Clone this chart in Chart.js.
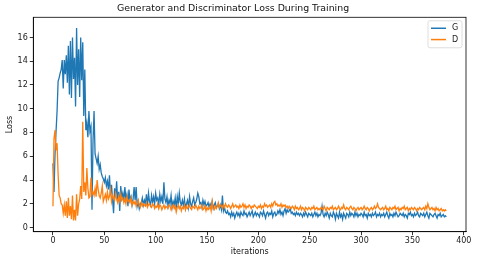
<!DOCTYPE html>
<html>
<head>
<meta charset="utf-8">
<script src="https://cdn.jsdelivr.net/npm/chart.js@4/dist/chart.umd.min.js"></script>
<style>
  html, body { margin: 0; padding: 0; background: #fff; }
  #wrap { width: 480px; height: 258px; }
</style>
</head>
<body>
<div id="wrap"><canvas id="lossChart" width="480" height="258"></canvas></div>
<script>
// Loss values, one per iteration
const gLoss = [
  5.4, 3.0, 6.2, 8.1, 9.8, 12.3, 12.6, 13.0, 13.3, 14.1,
  11.7, 14.1, 12.9, 14.5, 12.2, 15.3, 11.2, 15.7, 10.9, 16.0,
  12.5, 14.3, 10.2, 16.8, 12.0, 15.0, 11.0, 16.0, 12.4, 15.6,
  9.4, 13.3, 8.2, 8.8, 7.6, 9.8, 8.1, 8.5, 1.5, 7.3,
  9.8, 6.2, 5.8, 5.4, 6.0, 4.9, 5.3, 4.6, 4.3, 4.1,
  3.8, 4.2, 3.5, 3.9, 3.2, 4.4, 2.8, 3.6, 2.4, 1.2,
  3.3, 2.6, 3.9, 2.2, 3.0, 1.4, 3.5, 2.5, 2.9, 2.2,
  3.4, 2.4, 2.8, 1.8, 3.2, 2.3, 2.6, 1.9, 2.4, 3.4,
  2.3, 3.4, 1.8, 2.2, 1.6, 2.0, 2.1, 2.5, 1.9, 2.3,
  2.0, 2.8, 1.8, 2.9, 2.2, 1.9, 2.7, 2.1, 2.6, 2.0,
  2.9, 2.3, 2.5, 1.9, 2.8, 2.2, 2.6, 2.0, 3.8, 2.4,
  2.1, 2.6, 1.8, 2.3, 2.0, 2.7, 1.7, 2.2, 1.9, 2.5,
  1.6, 2.6, 2.0, 2.9, 2.1, 1.9, 2.3, 1.8, 2.4, 1.6,
  2.0, 2.3, 1.7, 2.6, 2.0, 1.8, 2.2, 2.5, 1.9, 2.1,
  2.4, 2.9, 2.6, 2.0, 2.1, 1.7, 2.3, 1.9, 2.2, 1.8,
  1.9, 2.1, 1.7, 2.0, 1.8, 2.2, 1.6, 1.9, 2.1, 1.7,
  1.8, 2.0, 1.6, 1.9, 1.5, 2.7, 1.4, 1.7, 1.3, 1.2,
  1.4, 1.1, 1.2, 0.9, 1.3, 1.0, 1.2, 0.8, 1.1, 1.3,
  1.0, 1.2, 0.9, 1.3, 1.1, 1.0, 1.4, 1.1, 1.2, 0.9,
  1.1, 1.3, 1.0, 1.2, 1.4, 0.9, 1.1, 1.3, 1.0, 1.2,
  1.1, 0.9, 1.3, 1.2, 1.0, 1.4, 1.1, 0.8, 1.2, 1.3,
  1.0, 1.2, 1.1, 1.4, 0.9, 1.2, 1.3, 1.0, 1.1, 1.4,
  1.2, 1.5, 1.1, 1.3, 1.0, 1.4, 1.6, 1.2, 1.5, 1.3,
  1.4, 1.6, 1.2, 1.3, 1.1, 1.2, 1.0, 1.3, 1.1, 1.2,
  1.0, 1.2, 1.1, 0.9, 1.2, 1.0, 1.3, 1.1, 0.9, 1.2,
  1.1, 1.0, 1.2, 0.9, 1.1, 1.3, 1.0, 1.2, 0.9, 1.1,
  1.0, 1.2, 1.8, 1.1, 0.9, 1.2, 1.0, 1.3, 1.1, 0.8,
  1.2, 1.0, 0.9, 1.3, 1.1, 0.7, 1.2, 1.0, 0.8, 1.3,
  0.9, 1.1, 0.7, 1.2, 1.0, 0.8, 1.2, 1.1, 0.9, 1.3,
  1.0, 1.2, 1.1, 0.9, 1.3, 1.0, 1.2, 0.9, 1.1, 1.0,
  1.2, 1.1, 0.9, 1.3, 1.0, 1.1, 0.8, 1.2, 1.0, 1.1,
  0.9, 1.2, 1.0, 1.1, 1.3, 0.9, 1.1, 1.0, 1.2, 0.9,
  1.1, 1.0, 1.2, 0.9, 1.1, 1.3, 1.0, 0.8, 1.2, 1.0,
  1.1, 0.9, 1.2, 1.0, 1.3, 1.1, 0.9, 1.0, 1.2, 1.1,
  1.0, 1.2, 0.9, 1.1, 1.0, 0.8, 1.2, 1.1, 1.3, 1.0,
  1.1, 0.9, 1.2, 1.0, 1.1, 1.3, 1.0, 0.9, 1.2, 1.1,
  1.0, 1.2, 0.9, 1.1, 1.3, 1.0, 0.8, 1.2, 1.1, 1.0,
  0.9, 1.1, 1.2, 1.0, 0.8, 1.1, 1.0, 1.2, 0.9, 1.0,
  1.1, 0.9, 1.0, 0.9
];

const dLoss = [
  1.8, 7.5, 8.2, 6.5, 7.1, 4.5, 2.7, 2.5, 2.0, 1.9,
  1.2, 1.9, 1.0, 2.2, 0.8, 2.5, 1.0, 1.8, 0.7, 2.7,
  0.6, 1.5, 0.6, 2.8, 1.0, 2.0, 2.4, 3.5, 2.4, 8.9,
  3.0, 3.8, 2.7, 5.0, 3.3, 2.5, 2.6, 4.2, 2.8, 3.0,
  2.7, 3.3, 2.6, 4.0, 3.2, 2.7, 2.5, 2.9, 3.5, 2.2,
  2.5, 2.8, 2.3, 3.0, 2.4, 2.6, 3.2, 2.2, 2.7, 2.5,
  2.3, 2.9, 2.4, 2.1, 2.6, 2.2, 2.8, 2.3, 2.5, 2.1,
  2.4, 2.0, 2.6, 2.2, 2.3, 2.1, 2.5, 1.9, 2.2, 2.0,
  2.2, 1.8, 2.0, 2.3, 1.9, 1.7, 2.1, 1.8, 2.0, 1.9,
  1.8, 2.1, 1.7, 1.9, 2.0, 1.8, 1.7, 2.0, 1.9, 1.6,
  1.8, 1.7, 2.0, 1.6, 1.9, 1.8, 1.5, 1.7, 1.9, 1.6,
  1.8, 1.7, 1.6, 1.9, 1.8, 1.5, 1.7, 1.9, 1.6, 1.8,
  1.3, 1.7, 1.9, 1.6, 1.8, 1.4, 1.7, 1.6, 1.9, 1.5,
  1.8, 1.6, 1.7, 1.9, 1.6, 1.5, 1.8, 1.7, 1.6, 1.9,
  1.7, 1.5, 1.8, 1.6, 1.7, 1.9, 1.5, 1.6, 1.8, 1.4,
  1.7, 1.5, 1.6, 1.8, 1.4, 2.2, 1.6, 1.5, 1.8, 1.6,
  1.8, 2.1, 1.7, 1.9, 1.8, 1.6, 1.9, 1.7, 2.0, 1.8,
  1.7, 1.9, 1.8, 1.6, 1.8, 2.0, 1.7, 1.8, 1.9, 1.7,
  1.8, 1.6, 1.9, 1.7, 1.8, 2.0, 1.7, 1.9, 1.6, 1.8,
  1.7, 1.9, 1.8, 1.6, 1.8, 1.7, 1.9, 1.8, 1.7, 1.6,
  1.8, 1.7, 1.9, 1.6, 1.8, 1.7, 2.0, 1.8, 1.9, 1.7,
  1.8, 1.9, 1.7, 2.0, 1.8, 2.1, 2.2, 1.9, 2.0, 1.8,
  1.9, 1.8, 2.0, 1.7, 1.9, 1.8, 1.9, 1.7, 1.8, 1.6,
  1.8, 1.7, 1.6, 1.8, 1.7, 1.5, 1.8, 1.6, 1.7, 1.5,
  1.6, 1.8, 1.5, 1.7, 1.6, 1.4, 1.7, 1.6, 1.5, 1.7,
  1.6, 1.5, 1.7, 1.6, 1.8, 1.5, 1.6, 1.7, 1.5, 1.6,
  1.5, 1.7, 1.6, 1.5, 1.8, 1.6, 1.4, 1.7, 1.6, 1.5,
  1.7, 1.6, 1.8, 1.5, 1.6, 1.7, 1.5, 1.6, 1.8, 1.6,
  1.5, 1.7, 1.6, 1.9, 1.6, 1.5, 1.7, 1.6, 1.5, 1.7,
  1.8, 1.6, 1.5, 1.7, 1.6, 1.4, 1.6, 1.7, 1.5, 1.6,
  1.7, 1.5, 1.6, 1.8, 1.6, 1.5, 1.7, 1.6, 1.4, 1.6,
  1.7, 1.5, 1.6, 1.8, 1.6, 1.7, 2.0, 1.7, 1.6, 1.5,
  1.6, 1.7, 1.5, 1.6, 1.8, 1.5, 1.6, 1.4, 1.7, 1.6,
  1.5, 1.7, 1.6, 1.8, 1.5, 1.6, 1.7, 1.4, 1.6, 1.5,
  1.7, 1.6, 1.8, 1.5, 1.6, 1.7, 1.4, 1.6, 1.5, 1.7,
  1.6, 1.5, 1.7, 1.6, 1.4, 1.6, 1.5, 1.7, 1.6, 1.5,
  1.6, 1.7, 1.5, 1.8, 1.6, 2.0, 1.7, 1.5, 1.6, 1.7,
  1.5, 1.6, 1.4, 1.7, 1.5, 1.6, 1.4, 1.5, 1.6, 1.4,
  1.5, 1.4, 1.5, 1.4
];

const seriesNames = ['G', 'D'];
const xTicks = [0, 50, 100, 150, 200, 250, 300, 350, 400];
const yTicks = [0, 2, 4, 6, 8, 10, 12, 14, 16];

const FONT = "'DejaVu Sans', sans-serif";
const BLUE = '#1f77b4';
const ORANGE = '#ff7f0e';

function toPoints(arr) {
    return arr.map((v, i) => ({ x: i, y: v }));
}

// matplotlib-style frame + legend box inside the axes
const framePlugin = {
    id: 'frame',
    afterDatasetsDraw(chart) {
        const { ctx, chartArea: a } = chart;
        ctx.save();
        ctx.strokeStyle = '#000';
        ctx.lineWidth = 0.8;
        ctx.strokeRect(a.left, a.top, a.right - a.left, a.bottom - a.top);

        // legend
        const bx = a.right - 38, by = a.top + 3.5, bw = 34, bh = 27;
        ctx.fillStyle = 'rgba(255,255,255,0.8)';
        ctx.strokeStyle = '#d6d6d6';
        ctx.lineWidth = 0.8;
        ctx.beginPath();
        ctx.roundRect(bx, by, bw, bh, 2);
        ctx.fill();
        ctx.stroke();
        ctx.font = '8px ' + FONT;
        ctx.textBaseline = 'middle';
        chart.data.datasets.forEach((ds, i) => {
            const y = by + 7.5 + i * 11.3;
            ctx.strokeStyle = ds.borderColor;
            ctx.lineWidth = 1.5;
            ctx.beginPath();
            ctx.moveTo(bx + 3, y);
            ctx.lineTo(bx + 18, y);
            ctx.stroke();
            ctx.fillStyle = '#222';
            ctx.fillText(ds.label, bx + 24, y);
        });
        ctx.restore();
    }
};

new Chart(document.getElementById('lossChart'), {
    type: 'line',
    data: {
        datasets: [
            {
                label: seriesNames[0],
                data: toPoints(gLoss),
                borderColor: BLUE,
                borderWidth: 1.3,
                pointRadius: 0,
                tension: 0,
                order: 1
            },
            {
                label: seriesNames[1],
                data: toPoints(dLoss),
                borderColor: ORANGE,
                borderWidth: 1.3,
                pointRadius: 0,
                tension: 0,
                order: 0
            }
        ]
    },
    options: {
        responsive: false,
        animation: false,
        events: [],
        layout: { padding: { left: 0, right: 14, top: 0, bottom: 0 } },
        plugins: {
            legend: { display: false },
            tooltip: { enabled: false },
            title: {
                display: true,
                text: 'Generator and Discriminator Loss During Training',
                color: '#111',
                font: { family: FONT, size: 9.4, weight: 'normal' },
                padding: { top: 3.2, bottom: 2.8 }
            }
        },
        scales: {
            x: {
                type: 'linear',
                min: -19.15,
                max: 402.15,
                afterBuildTicks: axis => { axis.ticks = xTicks.map(v => ({ value: v })); },
                afterFit: axis => { axis.height = 26.3; },
                ticks: {
                    color: '#222',
                    font: { family: FONT, size: 8 },
                    padding: 1,
                    maxRotation: 0,
                    autoSkip: false
                },
                grid: { drawOnChartArea: false, drawTicks: true, tickLength: 3.5, color: '#000', lineWidth: 0.8 },
                border: { display: true, color: '#000', width: 0.8 },
                title: {
                    display: true,
                    text: 'iterations',
                    color: '#111',
                    font: { family: FONT, size: 8 },
                    padding: { top: 0, bottom: 1.5 }
                }
            },
            y: {
                min: -0.35,
                max: 17.7,
                afterBuildTicks: axis => { axis.ticks = yTicks.map(v => ({ value: v })); },
                afterFit: axis => { axis.width = 33.3; },
                ticks: {
                    color: '#222',
                    font: { family: FONT, size: 8 },
                    padding: 2,
                    autoSkip: false
                },
                grid: { drawOnChartArea: false, drawTicks: true, tickLength: 3.5, color: '#000', lineWidth: 0.8 },
                border: { display: true, color: '#000', width: 0.8 },
                title: {
                    display: true,
                    text: 'Loss',
                    color: '#111',
                    font: { family: FONT, size: 8 },
                    padding: { top: 5, bottom: 0 }
                }
            }
        }
    },
    plugins: [framePlugin]
});
</script>
</body>
</html>
